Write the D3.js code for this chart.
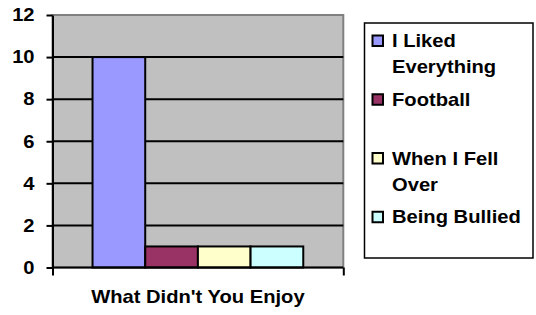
<!DOCTYPE html>
<head>
    <meta charset="utf-8">
    <style>
        body {
            margin: 0;
            padding: 0;
            background: #fff;
        }
        text {
            font-family: Arial, "Liberation Sans", sans-serif;
            font-weight: bold;
            font-size: 18px;
            fill: #000;
        }
    </style>
    <script src="https://d3js.org/d3.v7.min.js"></script>
</head>
<body>
    <svg width="536" height="315"></svg>
    <script>
        // data
        var categories = ["What Didn't You Enjoy"];
        var seriesNames = ["I Liked Everything", "Football", "When I Fell Over", "Being Bullied"];
        var seriesValues = [10, 1, 1, 1];
        var seriesColors = ["#9999FF", "#993366", "#FFFFCC", "#CCFFFF"];
        var legendLines = [["I Liked", "Everything"], ["Football"], ["When I Fell", "Over"], ["Being Bullied"]];
        var yTicks = [0, 2, 4, 6, 8, 10, 12];

        var svg = d3.select("svg");
        var stretch = 1.12; // text in the original is a little wide

        // plot area
        var plotLeft = 52.5, plotRight = 343.3, plotTop = 15, plotBottom = 267.5;

        var y = d3.scaleLinear().domain([0, 12]).range([plotBottom, plotTop]);
        var x0 = d3.scaleBand().domain(categories).range([plotLeft, plotRight])
            .paddingInner(0).paddingOuter(0.19);
        var x1 = d3.scaleBand().domain(seriesNames).range([0, x0.bandwidth()]);

        svg.append("rect")
            .attr("x", plotLeft).attr("y", plotTop)
            .attr("width", plotRight - plotLeft).attr("height", plotBottom - plotTop)
            .attr("fill", "#C0C0C0")
            .attr("stroke", "#808080")
            .attr("stroke-width", 2);

        // gridlines
        svg.append("g")
            .selectAll("line")
            .data(yTicks.filter(function (d) { return d > 0 && d < 12; }))
            .enter().append("line")
                .attr("x1", plotLeft).attr("x2", plotRight)
                .attr("y1", function (d) { return y(d); })
                .attr("y2", function (d) { return y(d); })
                .attr("stroke", "#000")
                .attr("stroke-width", 2);

        // bars
        var group = svg.append("g")
            .attr("transform", "translate(" + x0(categories[0]) + ",0)");
        group.selectAll("rect")
            .data(seriesValues)
            .enter().append("rect")
                .attr("x", function (d, i) { return x1(seriesNames[i]); })
                .attr("y", function (d) { return y(d); })
                .attr("width", x1.bandwidth())
                .attr("height", function (d) { return y(0) - y(d); })
                .attr("fill", function (d, i) { return seriesColors[i]; })
                .attr("stroke", "#000")
                .attr("stroke-width", 2);

        // y axis
        var yAxis = svg.append("g")
            .attr("transform", "translate(" + plotLeft + ",0)")
            .call(d3.axisLeft(y).tickValues(yTicks).tickSize(6).tickPadding(10).tickSizeOuter(0));
        yAxis.attr("font-size", null).attr("font-family", null);
        yAxis.select(".domain").attr("stroke", "#000").attr("stroke-width", 2);
        yAxis.selectAll(".tick line").attr("stroke", "#000").attr("stroke-width", 2);
        yAxis.selectAll(".tick text")
            .attr("transform", "scale(" + stretch + ",1)");

        // x axis
        var xAxis = svg.append("g")
            .attr("transform", "translate(0," + plotBottom + ")")
            .call(d3.axisBottom(d3.scaleLinear().domain([0, 1]).range([plotLeft, plotRight]))
                .tickValues([0, 1]).tickSize(8).tickFormat(""));
        xAxis.select(".domain").attr("stroke", "#000").attr("stroke-width", 2)
            .attr("d", "M" + plotLeft + ",0H" + plotRight);
        xAxis.selectAll(".tick line").attr("stroke", "#000").attr("stroke-width", 2);

        svg.append("text")
            .attr("transform", "translate(" + (x0(categories[0]) + x0.bandwidth() / 2) + ",303) scale(" + stretch + ",1)")
            .attr("text-anchor", "middle")
            .text(categories[0]);

        // legend
        var lgX = 364.5, lgY = 23, lgW = 168.5, lgH = 235;
        svg.append("rect")
            .attr("x", lgX).attr("y", lgY)
            .attr("width", lgW).attr("height", lgH)
            .attr("fill", "#fff")
            .attr("stroke", "#000")
            .attr("stroke-width", 1.5);

        var slot = d3.scaleBand().domain(seriesNames).range([lgY, lgY + lgH]);
        var items = svg.append("g")
            .selectAll("g")
            .data(seriesNames)
            .enter().append("g")
                .attr("transform", function (d) { return "translate(0," + (slot(d) + 12) + ")"; });
        items.append("rect")
            .attr("x", 372.5).attr("y", 0.5)
            .attr("width", 10.5).attr("height", 10.5)
            .attr("fill", function (d, i) { return seriesColors[i]; })
            .attr("stroke", "#000")
            .attr("stroke-width", 2);
        items.each(function (d, i) {
            d3.select(this).selectAll("text")
                .data(legendLines[i])
                .enter().append("text")
                    .attr("transform", function (t, j) {
                        return "translate(392," + (12 + j * 26) + ") scale(" + stretch + ",1)";
                    })
                    .text(function (t) { return t; });
        });
    </script>
</body>
</html>
